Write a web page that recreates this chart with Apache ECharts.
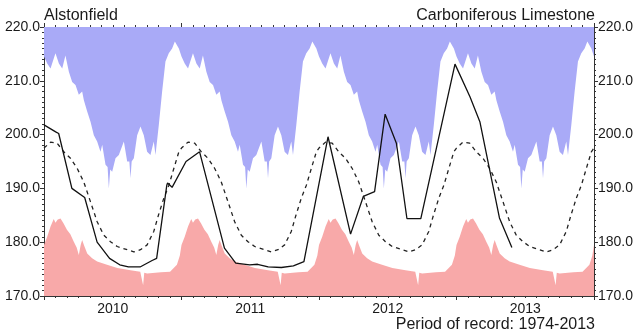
<!DOCTYPE html>
<html>
<head>
<meta charset="utf-8">
<script src="https://cdn.jsdelivr.net/npm/echarts@6/dist/echarts.min.js"></script>
<style>
  html, body { margin: 0; padding: 0; background: #ffffff; }
  #chart { width: 638px; height: 335px; }
</style>
</head>
<body>
<div id="chart"></div>
<script>
// Borehole hydrograph: groundwater level (mAOD) against time
const siteName = 'Alstonfield';
const aquiferName = 'Carboniferous Limestone';
const recordNote = 'Period of record: 1974-2013';

const years = [2010, 2011, 2012, 2013];
const yearLabels = ['2010', '2011', '2012', '2013'];
const levelTicks = [170, 180, 190, 200, 210, 220];

// Long-term statistics through the year; positions in months from 1 January
const maxMonths = [0, 0.28, 0.57, 1.0, 1.3, 1.59, 1.87, 2.17, 2.46, 2.75, 3.04, 3.33, 3.48, 3.77, 4.06, 4.35, 4.64, 4.93, 5.08, 5.37, 5.55, 5.66, 5.78, 5.95, 6.24, 6.53, 6.97, 7.26, 7.45, 7.55, 7.65, 7.84, 8.13, 8.42, 8.71, 9.0, 9.29, 9.58, 9.73, 10.02, 10.31, 10.6, 10.89, 11.18, 11.42, 11.77];
const maxLevels = [214.5, 213.2, 212.3, 215.1, 213.2, 212.3, 214.7, 211.7, 209.8, 209.2, 207.4, 208.0, 206.4, 204.3, 202.4, 199.9, 198.7, 196.8, 198.1, 194.4, 194.0, 190.0, 193.5, 193.1, 195.6, 196.2, 198.7, 195.0, 195.0, 191.9, 195.0, 195.6, 199.9, 201.5, 199.9, 196.8, 196.2, 198.7, 196.2, 201.8, 208.0, 213.6, 215.1, 216.0, 217.3, 216.0];

const meanMonths = [0, 0.57, 1.15, 1.73, 2.31, 2.9, 3.47, 4.06, 4.64, 5.22, 5.8, 6.39, 7.26, 7.84, 8.42, 9.0, 9.58, 10.0, 10.46, 10.9, 11.33, 11.77];
const meanLevels = [197.5, 198.6, 198.4, 196.8, 195.6, 193.7, 191.2, 187.5, 183.8, 181.3, 180.1, 179.2, 178.6, 178.2, 178.6, 179.5, 182.0, 185.1, 188.2, 190.6, 193.7, 196.8];

const minMonths = [0, 0.28, 0.57, 0.85, 1.0, 1.2, 1.44, 1.7, 2.0, 2.3, 2.6, 2.85, 3.04, 3.2, 3.33, 3.5, 3.77, 4.2, 4.64, 5.5, 6.4, 7.55, 8.4, 8.55, 8.65, 8.75, 9.0, 10.2, 11.0, 11.6, 11.85];
const minLevels = [179.5, 181.0, 182.9, 184.3, 183.6, 184.2, 184.4, 183.5, 182.3, 181.5, 180.1, 179.0, 177.6, 179.5, 180.4, 179.4, 177.9, 177.0, 176.4, 175.8, 175.2, 174.8, 174.5, 174.4, 172.0, 174.3, 174.2, 174.4, 174.5, 175.8, 177.5];

// Measured levels
const obsDates = ['2010-01-01', '2010-02-01', '2010-02-09', '2010-03-16', '2010-04-19', '2010-05-22', '2010-06-24', '2010-07-21', '2010-08-13', '2010-09-13', '2010-10-15', '2010-10-27', '2010-11-23', '2010-11-25', '2010-12-07', '2011-01-13', '2011-02-18', '2011-04-25', '2011-05-25', '2011-07-01', '2011-07-22', '2011-08-19', '2011-09-23', '2011-10-25', '2011-11-22', '2012-01-25', '2012-03-25', '2012-04-28', '2012-05-28', '2012-06-25', '2012-07-25', '2012-08-22', '2012-09-28', '2012-12-28', '2013-02-06', '2013-03-04', '2013-04-25', '2013-05-28'];
const obsLevels = [201.8, 200.5, 200.2, 190.0, 188.3, 180.0, 177.0, 175.8, 175.4, 175.4, 176.6, 177.0, 190.6, 191.0, 190.2, 195.0, 196.8, 178.9, 176.1, 175.8, 175.9, 175.4, 175.3, 175.6, 176.4, 199.6, 181.5, 188.5, 189.4, 203.8, 198.4, 184.4, 184.4, 213.1, 207.0, 202.4, 184.5, 179.0];

function decimalYear(s) {
  const d = new Date(s + 'T00:00:00Z');
  const y = d.getUTCFullYear();
  const a = Date.UTC(y, 0, 1), b = Date.UTC(y + 1, 0, 1);
  return y + (d.getTime() - a) / (b - a);
}

// Repeat the annual statistics over every year shown
function spanYears(months, levels) {
  const out = [];
  years.forEach(function (y) {
    months.forEach(function (m, i) { out.push([y + m / 12, levels[i]]); });
  });
  out.push([years[years.length - 1] + 1, levels[0]]);
  return out;
}

const xMin = years[0];
const xMax = years[years.length - 1] + 1;
const yMin = levelTicks[0];
const yMax = levelTicks[levelTicks.length - 1];
const textColor = '#1a1a1a';
const axisColor = '#333333';
const fontFamily = '"Liberation Sans", Arial, sans-serif';

function xAxisDef(pos, showLabels) {
  return {
    type: 'value', position: pos, min: xMin, max: xMax, interval: 1,
    axisLine: { onZero: false, lineStyle: { color: axisColor, width: 1 } },
    axisTick: { show: true, length: 4, inside: false, lineStyle: { color: axisColor } },
    minorTick: { show: true, splitNumber: 12, length: 2, lineStyle: { color: axisColor } },
    splitLine: { show: false },
    axisLabel: showLabels ? {
      show: true,
      customValues: years.map(function (y) { return y + 0.5; }),
      formatter: function (v) { return yearLabels[years.indexOf(Math.floor(v))]; },
      color: textColor, fontSize: 14, fontFamily: fontFamily, margin: 6
    } : { show: false }
  };
}

function yAxisDef(pos) {
  return {
    type: 'value', position: pos, min: yMin, max: yMax, interval: 10,
    axisLine: { onZero: false, lineStyle: { color: axisColor, width: 1 } },
    axisTick: { show: true, length: 4, lineStyle: { color: axisColor } },
    minorTick: { show: true, splitNumber: 10, length: 2, lineStyle: { color: axisColor } },
    splitLine: { show: false },
    axisLabel: {
      formatter: function (v) { return v.toFixed(1); },
      color: textColor, fontSize: 14, fontFamily: fontFamily, margin: 4
    }
  };
}

const chart = echarts.init(document.getElementById('chart'), null, { renderer: 'canvas' });
chart.setOption({
  animation: false,
  backgroundColor: '#ffffff',
  grid: { left: 44, right: 44, top: 27, bottom: 39, containLabel: false },
  xAxis: [xAxisDef('bottom', true), xAxisDef('top', false)],
  yAxis: [yAxisDef('left'), yAxisDef('right')],
  graphic: [
    { type: 'text', left: 44, top: 8, style: { text: siteName, fill: textColor, font: '16px ' + fontFamily } },
    { type: 'text', right: 43, top: 8, style: { text: aquiferName, fill: textColor, font: '16px ' + fontFamily } },
    { type: 'text', right: 43, top: 317, style: { text: recordNote, fill: textColor, font: '16px ' + fontFamily } }
  ],
  series: [
    {
      name: 'Maximum', type: 'line', data: spanYears(maxMonths, maxLevels),
      showSymbol: false, silent: true, z: 1,
      lineStyle: { width: 0 },
      areaStyle: { origin: 'end', color: '#a9aaf7', opacity: 1 }
    },
    {
      name: 'Minimum', type: 'line', data: spanYears(minMonths, minLevels),
      showSymbol: false, silent: true, z: 1,
      lineStyle: { width: 0 },
      areaStyle: { origin: 'start', color: '#f8a9a9', opacity: 1 }
    },
    {
      name: 'Mean', type: 'line', data: spanYears(meanMonths, meanLevels),
      showSymbol: false, silent: true, z: 3,
      lineStyle: { color: '#222222', width: 1.3, type: [4, 4] }
    },
    {
      name: 'Level', type: 'line',
      data: obsDates.map(function (d, i) { return [decimalYear(d), obsLevels[i]]; }),
      showSymbol: false, silent: true, z: 4,
      lineStyle: { color: '#111111', width: 1.3 }
    }
  ]
});
</script>
</body>
</html>
